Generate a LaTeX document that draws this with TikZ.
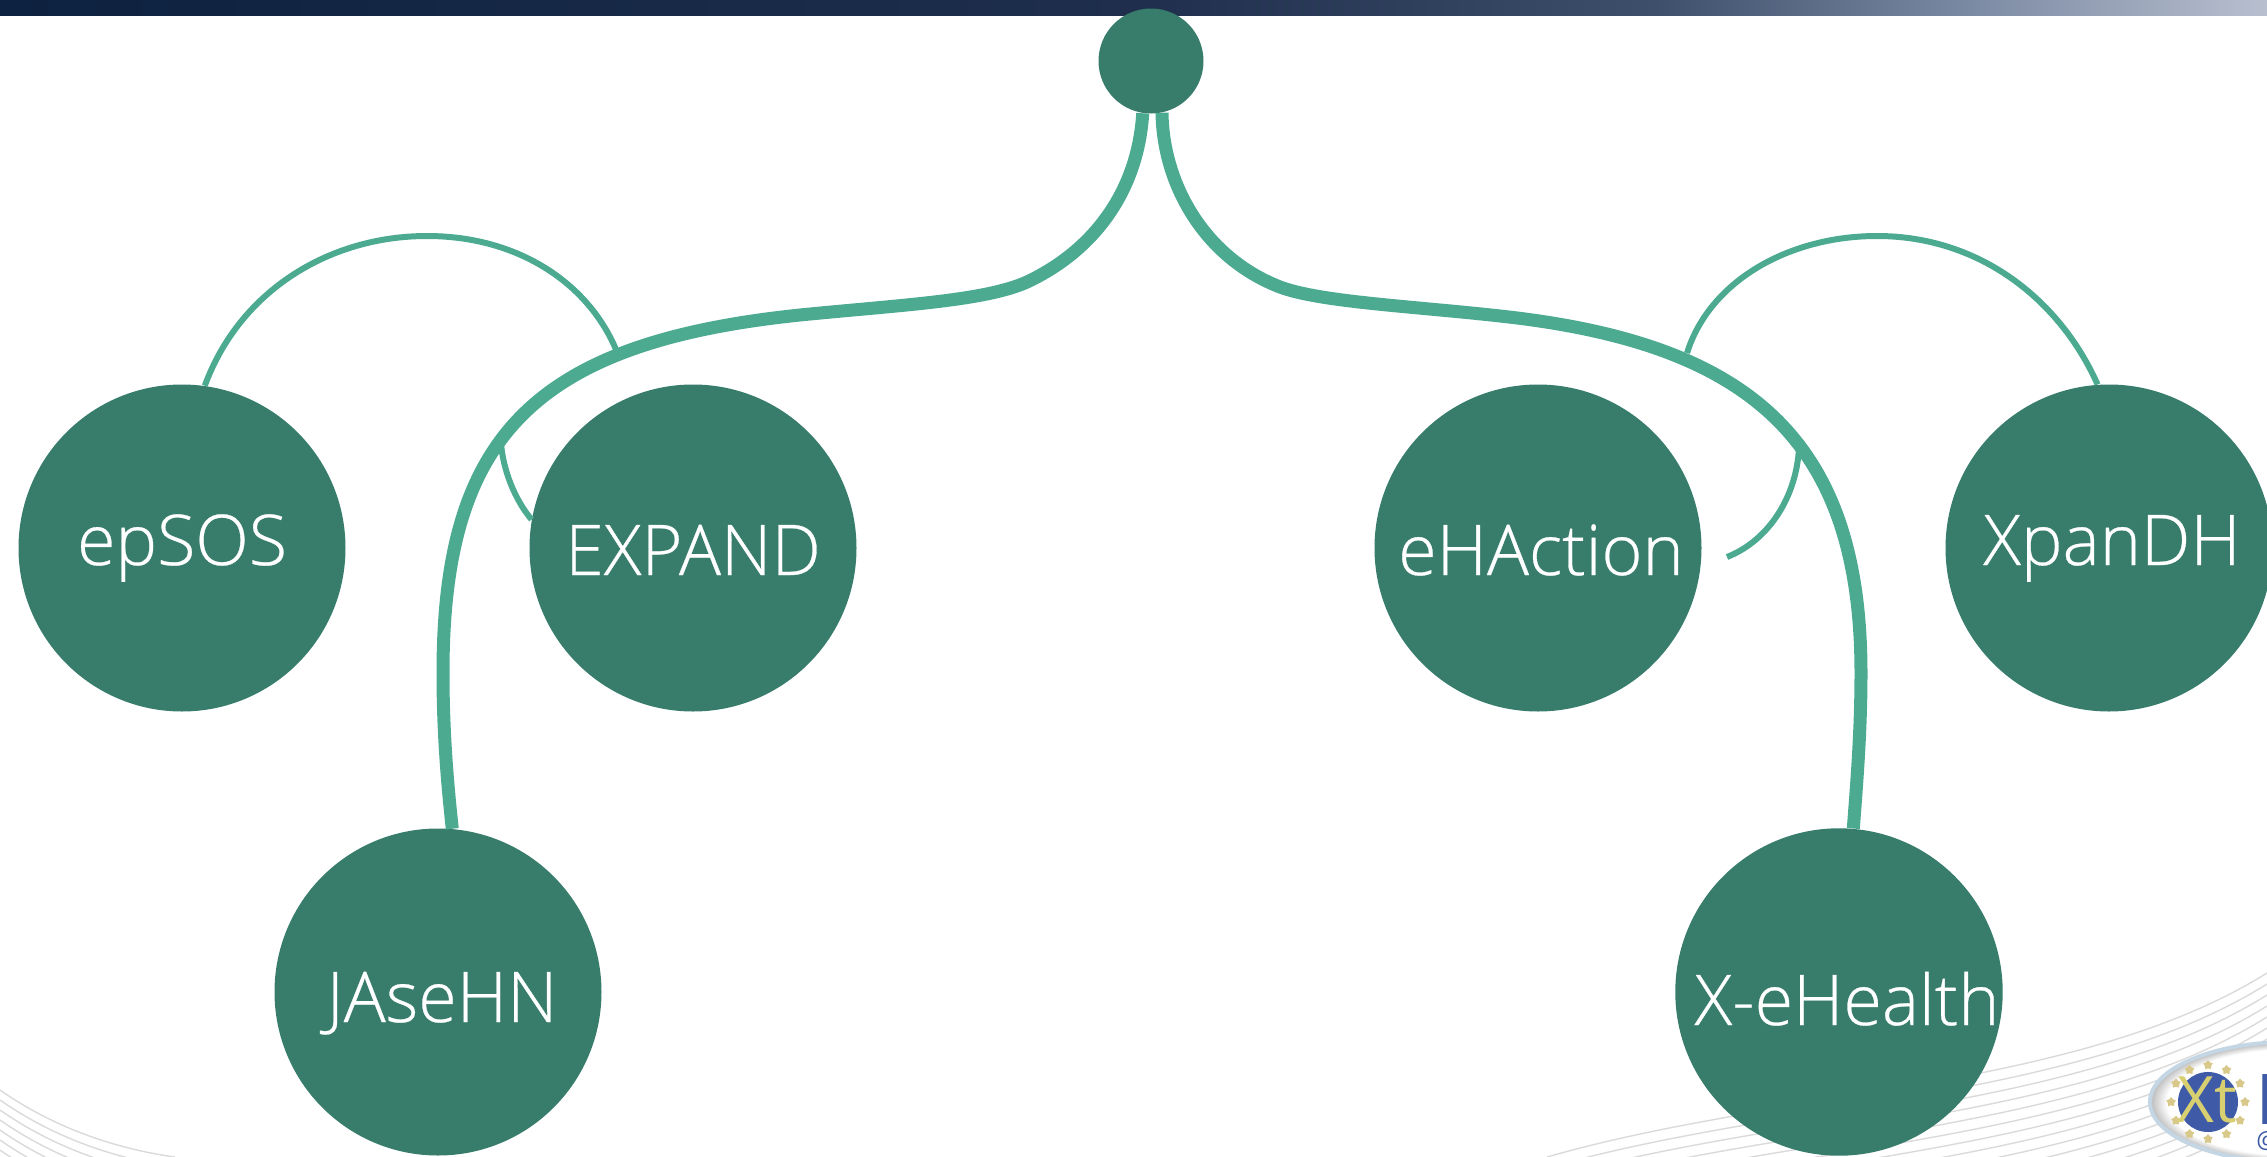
\documentclass[tikz,border=0pt]{standalone}
\usepackage{fontspec}
\setmainfont{Open Sans}[UprightFont=* Light]
\newfontfamily\logofont{Open Sans}
\usepackage{tikz}
\usetikzlibrary{shapes.geometric}
\usetikzlibrary{calc}

\definecolor{hubgreen}{HTML}{387D6B}
\definecolor{linkgreen}{HTML}{4CAA91}
\definecolor{swirlgray}{HTML}{DADADA}
\definecolor{barone}{HTML}{0D2240}
\definecolor{bartwo}{HTML}{1E2E4C}
\definecolor{barthree}{HTML}{3D4F6B}
\definecolor{barfour}{HTML}{7786A0}
\definecolor{barfive}{HTML}{B8BFCF}
\definecolor{logorim}{HTML}{C4D6E4}
\definecolor{logoblue}{HTML}{3F5BA8}
\definecolor{logostar}{HTML}{D8C88A}
\definecolor{logotext}{HTML}{D8D070}
\pgfdeclarehorizontalshading{barshade}{100bp}{color(0bp)=(barone); color(25bp)=(barone); color(50bp)=(bartwo); color(61.5bp)=(barthree); color(68bp)=(barfour); color(75bp)=(barfive); color(100bp)=(barfive)}
\pgfdeclareradialshading{logoshade}{\pgfpoint{0bp}{0bp}}{color(0bp)=(white); color(22bp)=(white); color(25bp)=(gray!55); color(50bp)=(gray!55)}

\tikzset{
	hub/.style={circle, fill=hubgreen, text=white, inner sep=0pt, minimum size=163.5pt, text depth=0pt, text height=#1, font=\fontsize{35}{38}\selectfont\addfontfeature{FakeBold=0.4}},
	trunk/.style={draw=linkgreen, line width=6.5pt},
	twig/.style={draw=linkgreen, line width=3pt},
	swirl/.style={draw=swirlgray, line width=0.7pt},
}

\begin{document}
\begin{tikzpicture}[x=0.5pt,y=-0.5pt]
	\useasboundingbox (0,0) rectangle (2267,1157);
	\shade[shading=barshade] (0,0) rectangle (2267,15);
	% swirl lines in the corners
	\foreach \d in {0,...,9}
	{
		\draw[swirl] (0,1090+\d*10) .. controls (50,1125+\d*10) and (110,1148+\d*10) .. (175,1157+\d*10);
	}
	\foreach \d in {0,...,13}
	{
		\draw[swirl] (1547,1157+\d*11) .. controls (1780,1090+\d*11) and (2080,1090+\d*11) .. (2267,973+\d*11);
	}
	% logo
	\shade[shading=logoshade, draw=logorim, line width=2pt] (2290,1102) ellipse (140 and 60);
	\node[circle, fill=logoblue, minimum size=30pt, inner sep=0pt] (logodisc) at (2208,1102) {};
	\foreach \i in {0,30,...,330}
	{
		\node[star, star points=5, fill=logostar, inner sep=0pt, minimum size=5pt] (star\i) at ($(logodisc)+(\i:37)$) {};
	}
	\node[text=logotext, inner sep=0pt, font=\logofont\fontsize{32}{32}\selectfont] (logoname) at (2207,1100) {Xt};
	\node[text=logoblue, anchor=west, inner sep=0pt, font=\logofont\bfseries\fontsize{35}{35}\selectfont] (logoe) at (2256,1100) {E};
	\node[text=logoblue, anchor=west, inner sep=0pt, font=\logofont\fontsize{12}{12}\selectfont] (logoat) at (2256,1141) {@};

	\node[circle, fill=hubgreen, inner sep=0pt, minimum size=52.5pt] (root) at (1151,61) {};
	\node[hub=17pt] (epsos) at (182,548) {epSOS\hspace{10pt}};
	\node[hub=27pt] (expand) at (693,548) {EXPAND};
	\node[hub=27pt] (ehaction) at (1538,548) {\hspace{3pt}eHAction};
	\node[hub=17pt] (xpandh) at (2109,548) {\hspace{3pt}XpanDH};
	\node[hub=30pt] (jasehn) at (438,992) {\hspace{4pt}JAseHN};
	\node[hub=33pt] (xehealth) at (1839,992) {\hspace{8pt}X-eHealth};

	\coordinate (forka) at (617,352);
	\coordinate (forkb) at (501,443);
	\coordinate (forkc) at (1687,353);
	\coordinate (forkd) at (1799,447);
	\coordinate (twigend) at (1727,557);

	\draw[twig] (epsos.82) .. controls (240,290) and (330,236) .. (427,236) .. controls (520,236) and (590,285) .. (forka);
	\draw[twig] (forkb) .. controls (503,470) and (515,500) .. (expand.170);
	\draw[twig] (forkc) .. controls (1710,280) and (1790,236) .. (1877,236) .. controls (1980,236) and (2060,300) .. (xpandh.94);
	\draw[twig] (forkd) .. controls (1797,495) and (1770,540) .. (twigend);

	\draw[trunk] (root.261) .. controls (1138,190) and (1095,250) .. (1027,282)
		.. controls (985,301) and (900,305) .. (800,315)
		.. controls (530,343) and (443,440) .. (443,673)
		.. controls (443,730) and (447,780) .. (jasehn.85);
	\draw[trunk] (root.282) .. controls (1163,185) and (1205,258) .. (1280,287)
		.. controls (1320,302) and (1410,306) .. (1500,316)
		.. controls (1750,343) and (1861,440) .. (1861,673)
		.. controls (1861,730) and (1857,780) .. (xehealth.85);
\end{tikzpicture}
\end{document}
